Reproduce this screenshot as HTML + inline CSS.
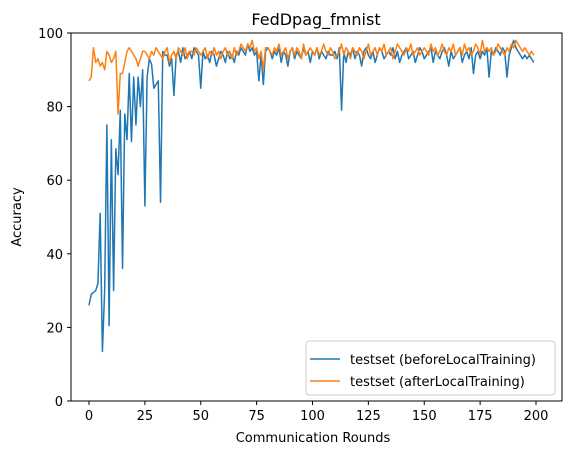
<!DOCTYPE html>
<html><head><meta charset="utf-8"><style>
body{margin:0;background:#fff}
svg text{font-family:"DejaVu Sans","Liberation Sans",sans-serif;fill:#000}
</style></head><body>
<svg id="chart" width="571" height="455" xmlns="http://www.w3.org/2000/svg">
<rect width="571" height="455" fill="#fff"/>
<text x="316" y="25" font-size="16" text-anchor="middle">FedDpag_fmnist</text>
<text x="313" y="442" font-size="13" text-anchor="middle">Communication Rounds</text>
<text x="21" y="217" font-size="13" text-anchor="middle" transform="rotate(-90 21 217)">Accuracy</text>
<g id="ticks"></g>
<g id="lines"></g>
<rect x="71" y="33" width="491" height="368" fill="none" stroke="#000" stroke-width="1"/>
<g>
<rect x="306" y="341" width="249" height="54" rx="3" fill="#fff" fill-opacity="0.8" stroke="#ccc"/>
<line x1="310" y1="359" x2="340" y2="359" stroke="#1f77b4" stroke-width="1.5"/>
<text x="350" y="364" font-size="13">testset (beforeLocalTraining)</text>
<line x1="310" y1="381" x2="340" y2="381" stroke="#ff7f0e" stroke-width="1.5"/>
<text x="350" y="386" font-size="13">testset (afterLocalTraining)</text>
</g>
</svg>
<script>
const xTicks=[0,25,50,75,100,125,150,175,200];
const yTicks=[0,20,40,60,80,100];
const before=[26,29,29.5,30,32,51,13.5,30,75,20.5,71,30,68.5,61.5,79,36,78,71,89,70.5,88,75,88,80,90,53,88,93,91.5,85,86,87,54,95,94,
94,91,93,83,94,95,92,96,93,94,
95,93,96,95,94,85,95,93,94,92,
95,94,91,93,95,94,92,95,93,94,
92,95,94,96,95,94,97,95,96,94,
95,87,94,86,95,96,95,93,95,94,
96,92,95,94,91,95,96,93,95,94,
93,96,94,95,92,95,94,96,93,95,
94,93,95,94,94,95,93,96,79,95,
92,95,94,96,93,95,94,91,95,96,
94,93,95,92,94,96,95,93,94,95,
94,96,93,95,92,94,95,96,93,94,
95,92,94,96,95,93,94,95,96,92,
95,94,93,95,96,94,91,95,93,94,
95,96,92,94,95,93,96,89,94,95,
93,95,94,96,88,95,94,96,95,94,
96,95,88,94,96,98,96,95,94,93,
94,93,94,93,92];
const after=[87,88,96,92,93,91,92,90,95,94,
92,93,95,78,89,89,92,95,96,95,
94,93,91,93,95,95,94,93,95,94,
96,95,94,93,95,96,92,94,95,93,
96,95,94,96,93,95,95,94,96,95,
94,95,96,93,95,94,96,94,95,93,
95,96,94,95,93,96,94,95,97,96,
95,97,96,98,95,96,93,95,90,96,
96,95,94,96,95,97,94,95,96,93,
95,96,94,96,95,93,97,94,95,96,
95,94,96,94,95,97,95,94,96,95,
93,94,95,97,94,96,95,93,96,95,
94,96,95,93,95,97,94,95,96,94,
96,95,97,94,95,96,93,95,97,96,
95,94,96,95,97,94,95,96,94,95,
96,95,94,97,95,96,94,95,97,95,
94,96,95,97,94,95,96,94,97,95,
96,94,95,97,96,94,98,95,96,95,
96,94,95,97,96,95,94,96,95,97,
96,98,97,96,95,96,95,94,95,94];
const NS="http://www.w3.org/2000/svg";
function sx(v){return 89+v*(536-89)/200;}
function sy(v){return 401-v*3.68;}
const tg=document.getElementById('ticks');
xTicks.forEach(t=>{
  const l=document.createElementNS(NS,'line');
  l.setAttribute('x1',sx(t));l.setAttribute('x2',sx(t));l.setAttribute('y1',401);l.setAttribute('y2',405);l.setAttribute('stroke','#000');
  
  
  tg.appendChild(l);
  const tx=document.createElementNS(NS,'text');
  tx.setAttribute('x',sx(t));tx.setAttribute('y',420);tx.setAttribute('font-size','13');tx.setAttribute('text-anchor','middle');tx.textContent=t;
  
  
  tg.appendChild(tx);
});
yTicks.forEach(t=>{
  const l=document.createElementNS(NS,'line');
  l.setAttribute('x1',67);l.setAttribute('x2',71);l.setAttribute('y1',sy(t));l.setAttribute('y2',sy(t));l.setAttribute('stroke','#000');
  
  
  tg.appendChild(l);
  const tx=document.createElementNS(NS,'text');
  tx.setAttribute('x',63);tx.setAttribute('y',sy(t)+5);tx.setAttribute('font-size','13');tx.setAttribute('text-anchor','end');tx.textContent=t;
  
  
  tg.appendChild(tx);
});
const lg=document.getElementById('lines');
[[before,'#1f77b4','line-before-local-training'],[after,'#ff7f0e','line-after-local-training']].forEach(([d,c,n])=>{
  const p=document.createElementNS(NS,'polyline');
  p.setAttribute('points',d.map((v,i)=>sx(i)+','+sy(v)).join(' '));
  p.setAttribute('fill','none');p.setAttribute('stroke',c);p.setAttribute('stroke-width','1.5');p.setAttribute('stroke-linejoin','round');
  
  
  lg.appendChild(p);
});
</script>
</body></html>
